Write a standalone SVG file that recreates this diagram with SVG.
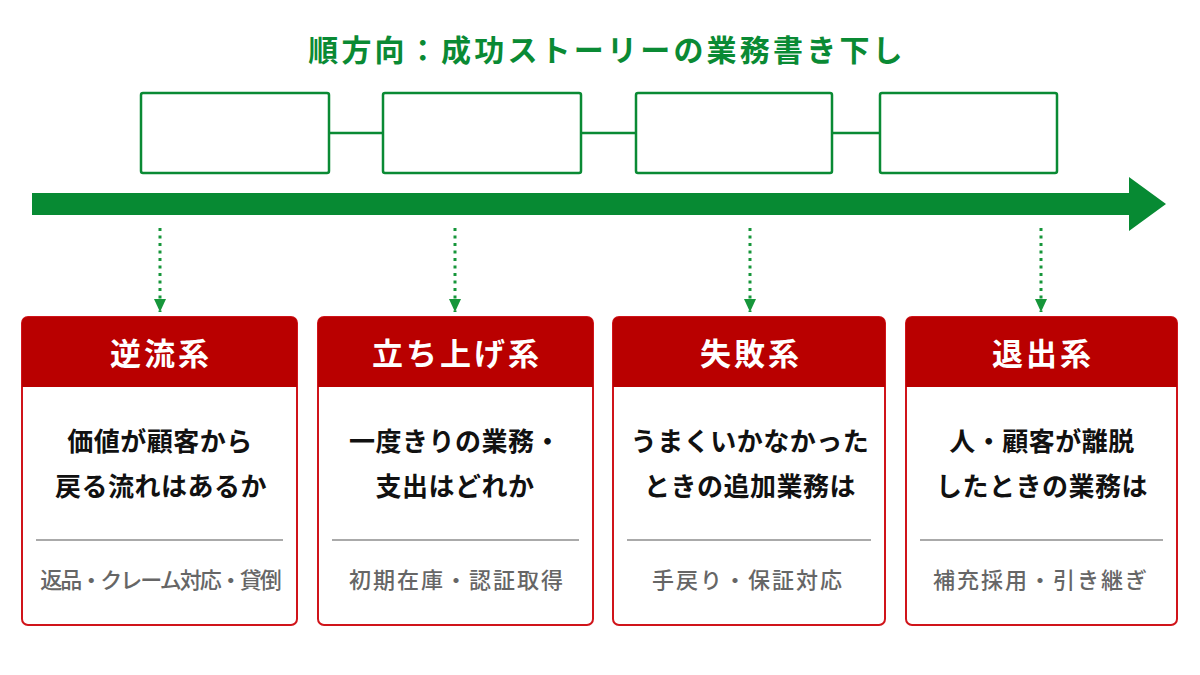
<svg xmlns="http://www.w3.org/2000/svg" width="1200" height="675" viewBox="0 0 1200 675">
<defs>
<style>
text{font-family:"Noto Sans CJK JP","Noto Sans",sans-serif;text-anchor:middle}
.title{font-size:30px;font-weight:700;fill:#0a8a34;letter-spacing:3.2px}
.step{fill:#fff;stroke:#0a8a34;stroke-width:2.5}
.link{stroke:#0a8a34;stroke-width:2.5;fill:none}
.dot{stroke:#16963a;stroke-width:3;stroke-dasharray:3 4.5;fill:none}
.card{fill:#fff;stroke:#d0141a;stroke-width:2}
.hdr{fill:#b90000}
.htxt{font-size:31px;font-weight:700;fill:#fff;letter-spacing:3px}
.body{font-size:26px;font-weight:700;fill:#111;letter-spacing:0.5px}
.sep{stroke:#aaaaaa;stroke-width:2}
.sub{font-size:22px;font-weight:500;fill:#666;letter-spacing:2px}
</style>
<marker id="ah" markerWidth="14" markerHeight="12" refX="13" refY="6" orient="auto" markerUnits="userSpaceOnUse">
<path d="M0,0 L13,6 L0,12 Z" fill="#16963a"/>
</marker>
</defs>
<rect width="1200" height="675" fill="#ffffff"/>
<text class="title" x="607" y="61">順方向：成功ストーリーの業務書き下し</text>

<g id="connectors">
<line class="link" x1="329" y1="133" x2="383" y2="133"/>
<line class="link" x1="581" y1="133" x2="636" y2="133"/>
<line class="link" x1="832" y1="133" x2="880" y2="133"/>
<path d="M32,193 H1129 V177 L1166,204 L1129,231 V215 H32 Z" fill="#078a33"/>
<line class="dot" x1="160" y1="228" x2="160" y2="312" marker-end="url(#ah)"/>
<line class="dot" x1="455" y1="228" x2="455" y2="312" marker-end="url(#ah)"/>
<line class="dot" x1="750" y1="228" x2="750" y2="312" marker-end="url(#ah)"/>
<line class="dot" x1="1041" y1="228" x2="1041" y2="312" marker-end="url(#ah)"/>
</g>

<g id="step1"><rect class="step" x="141" y="93" width="188" height="80" rx="2"/></g>
<g id="step2"><rect class="step" x="383" y="93" width="198" height="80" rx="2"/></g>
<g id="step3"><rect class="step" x="636" y="93" width="196" height="80" rx="2"/></g>
<g id="step4"><rect class="step" x="880" y="93" width="177" height="80" rx="2"/></g>

<g id="card1">
<rect class="card" x="22" y="317" width="275" height="308" rx="6"/>
<path class="hdr" d="M28,317 H291 Q297,317 297,323 V387 H22 V323 Q22,317 28,317 Z"/>
<text class="htxt" x="161" y="365">逆流系</text>
<text class="body" x="160" y="451">価値が顧客から</text>
<text class="body" x="161" y="496">戻る流れはあるか</text>
<line class="sep" x1="36" y1="540" x2="283" y2="540"/>
<text class="sub" x="160" y="588" style="letter-spacing:-2px">返品・クレーム対応・貸倒</text>
</g>

<g id="card2">
<rect class="card" x="318" y="317" width="275" height="308" rx="6"/>
<path class="hdr" d="M324,317 H587 Q593,317 593,323 V387 H318 V323 Q318,317 324,317 Z"/>
<text class="htxt" x="457" y="365">立ち上げ系</text>
<text class="body" x="455" y="451">一度きりの業務・</text>
<text class="body" x="455" y="496">支出はどれか</text>
<line class="sep" x1="332" y1="540" x2="579" y2="540"/>
<text class="sub" x="457" y="588">初期在庫・認証取得</text>
</g>

<g id="card3">
<rect class="card" x="613" y="317" width="272" height="308" rx="6"/>
<path class="hdr" d="M619,317 H879 Q885,317 885,323 V387 H613 V323 Q613,317 619,317 Z"/>
<text class="htxt" x="751" y="365">失敗系</text>
<text class="body" x="750" y="451">うまくいかなかった</text>
<text class="body" x="750" y="496">ときの追加業務は</text>
<line class="sep" x1="627" y1="540" x2="871" y2="540"/>
<text class="sub" x="748" y="588">手戻り・保証対応</text>
</g>

<g id="card4">
<rect class="card" x="906" y="317" width="271" height="308" rx="6"/>
<path class="hdr" d="M912,317 H1171 Q1177,317 1177,323 V387 H906 V323 Q906,317 912,317 Z"/>
<text class="htxt" x="1043" y="365">退出系</text>
<text class="body" x="1042" y="451">人・顧客が離脱</text>
<text class="body" x="1042" y="496">したときの業務は</text>
<line class="sep" x1="920" y1="540" x2="1163" y2="540"/>
<text class="sub" x="1041" y="588">補充採用・引き継ぎ</text>
</g>
</svg>
